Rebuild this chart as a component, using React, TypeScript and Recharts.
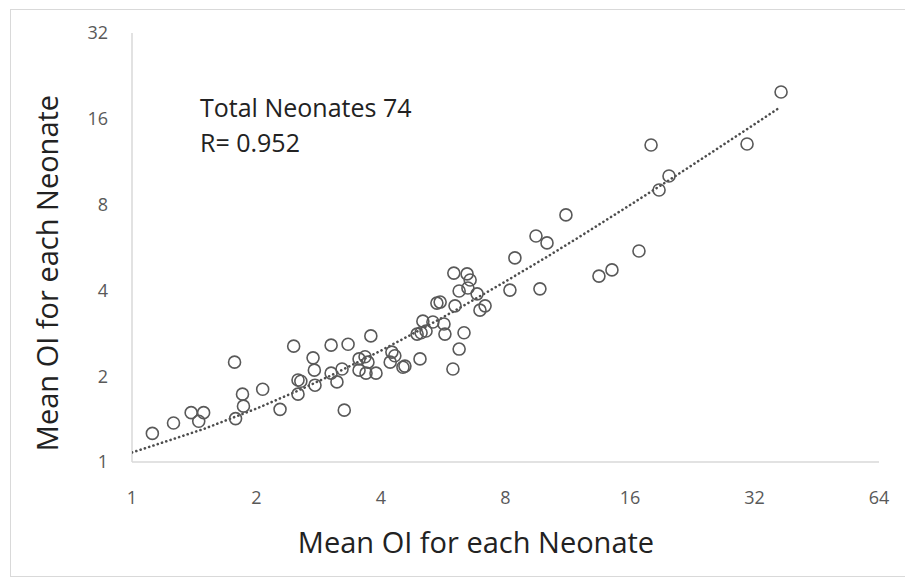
import React from 'react';
import { ScatterChart, Scatter, XAxis, YAxis, Label } from 'recharts';

// Mean OI values (x, y pairs)
const oiX = [
  1.12, 1.26, 1.39, 1.49, 1.45, 1.77, 1.85, 1.86, 1.78, 2.07,
  2.28, 2.46, 2.52, 2.56, 2.52, 2.74, 2.76, 2.77, 3.03, 3.03,
  3.13, 3.22, 3.33, 3.26, 3.78, 3.54, 3.66, 3.72, 3.54, 3.68,
  3.89, 4.21, 4.25, 4.32, 4.52, 4.57, 4.97, 4.89, 5.0, 5.14,
  5.05, 5.34, 5.68, 5.71, 6.35, 6.18, 5.97, 5.46, 5.56, 6.04,
  6.0, 6.46, 6.57, 6.18, 6.49, 6.83, 7.14, 6.94, 8.2, 9.69,
  8.43, 9.48, 10.08, 11.2, 13.46, 14.47, 16.82, 17.99, 19.88, 18.81,
  30.7, 37.1,
];
const oiY = [
  1.26, 1.37, 1.49, 1.49, 1.39, 2.24, 1.73, 1.57, 1.42, 1.8,
  1.53, 2.55, 1.94, 1.92, 1.73, 2.32, 2.1, 1.86, 2.57, 2.05,
  1.91, 2.12, 2.59, 1.52, 2.77, 2.3, 2.34, 2.24, 2.1, 2.05,
  2.05, 2.24, 2.43, 2.36, 2.15, 2.17, 2.3, 2.81, 2.84, 2.88,
  3.12, 3.1, 3.05, 2.81, 2.84, 2.49, 2.12, 3.61, 3.64, 3.53,
  4.6, 4.57, 4.35, 3.98, 4.08, 3.89, 3.53, 3.41, 4.01, 4.05,
  5.2, 6.21, 5.87, 7.36, 4.49, 4.72, 5.5, 12.95, 10.08, 9.0,
  13.05, 19.87,
];

// Dotted trendline
const trendX = [1, 1.25, 1.5, 2, 2.5, 3, 4, 5, 6, 8, 10, 12, 16, 20, 24, 32, 37];
const trendY = [1.08, 1.2, 1.31, 1.54, 1.77, 2.0, 2.46, 2.92, 3.38, 4.3, 5.21, 6.13, 7.97, 9.8, 11.64, 15.31, 17.6];

const xTicks = [1, 2, 4, 8, 16, 32, 64];
const yTicks = [1, 2, 4, 8, 16, 32];

const axisTitle = 'Mean OI for each Neonate';
const noteLines = ['Total Neonates 74', 'R= 0.952'];

const points = oiX.map((x, i) => ({ x, y: oiY[i] }));
const trend = trendX.map((x, i) => ({ x, y: trendY[i] }));

const FONT = '"Open Sans", "Liberation Sans", sans-serif';

const OpenCircle = (props: any) => {
  const { cx, cy } = props;
  if (cx == null || cy == null) return null;
  return <circle cx={cx} cy={cy} r={6} fill="none" stroke="#595959" strokeWidth={1.6} />;
};

const NoShape = () => null;

export default function App() {
  return (
    <div style={{ position: 'absolute', left: 0, top: 0, width: 905, height: 579, background: '#fff', overflow: 'hidden' }}>
      <div
        style={{
          position: 'absolute',
          left: 10,
          top: 9,
          width: 905,
          height: 568,
          border: '1px solid #d9d9d9',
          boxSizing: 'border-box',
        }}
      />
      <ScatterChart
        width={905}
        height={579}
        margin={{ top: 33, right: 26, bottom: 10, left: 10 }}
        style={{ position: 'absolute', left: 0, top: 0, fontFamily: FONT }}
      >
        <XAxis
          type="number"
          dataKey="x"
          scale="log"
          domain={[1, 64]}
          ticks={xTicks}
          allowDataOverflow
          height={107}
          tickLine={false}
          tickSize={0}
          tickMargin={29}
          axisLine={{ stroke: '#d9d9d9', strokeWidth: 1.5 }}
          tick={{ fill: '#595959', fontSize: 18, fontFamily: FONT }}
          interval={0}
        >
          <Label
            content={() => (
              <text x={476} y={553} textAnchor="middle" fill="#222" fontSize={29} fontFamily={FONT}>
                {axisTitle}
              </text>
            )}
          />
        </XAxis>
        <YAxis
          type="number"
          dataKey="y"
          scale="log"
          domain={[1, 32]}
          ticks={yTicks}
          allowDataOverflow
          width={122}
          tickLine={false}
          tickSize={0}
          tickMargin={24}
          axisLine={{ stroke: '#d9d9d9', strokeWidth: 1.5 }}
          tick={{ fill: '#595959', fontSize: 18, fontFamily: FONT }}
          interval={0}
        >
          <Label
            content={() => (
              <text
                x={48}
                y={273}
                dy={10}
                textAnchor="middle"
                transform="rotate(-90, 48, 273)"
                fill="#222"
                fontSize={29}
                fontFamily={FONT}
              >
                {axisTitle}
              </text>
            )}
          />
        </YAxis>
        <Scatter
          data={trend}
          shape={NoShape}
          line={{ stroke: '#4d4d4d', strokeWidth: 2.6, strokeDasharray: '0.1 4.4', strokeLinecap: 'round' }}
          lineType="joint"
          isAnimationActive={false}
        />
        <Scatter data={points} shape={OpenCircle} isAnimationActive={false} />
      </ScatterChart>
      <div
        style={{
          position: 'absolute',
          left: 200,
          top: 90,
          fontFamily: FONT,
          fontSize: 25,
          lineHeight: '35px',
          color: '#222',
          whiteSpace: 'pre',
        }}
      >
        {noteLines.map((t) => (
          <div key={t}>{t}</div>
        ))}
      </div>
    </div>
  );
}
